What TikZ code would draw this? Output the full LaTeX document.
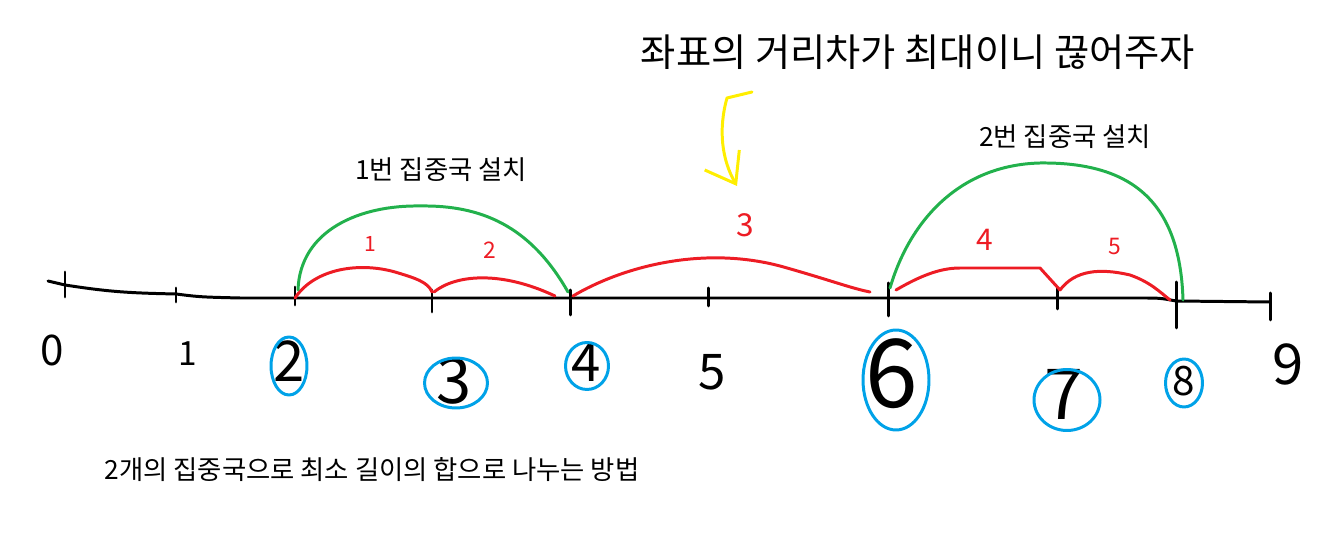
\documentclass[tikz,border=0pt]{standalone}
\usepackage{fontspec}
\setmainfont{Noto Sans CJK KR}
\usetikzlibrary{shapes.geometric, arrows.meta, positioning, calc}
\definecolor{cRed}{RGB}{237,28,36}
\definecolor{cGreen}{RGB}{34,177,76}
\definecolor{cBlue}{RGB}{0,162,232}
\definecolor{cYellow}{RGB}{255,238,0}
\newcommand{\fsz}[1]{\fontsize{#1}{#1}\selectfont}
\tikzset{
	pen/.style     ={line width=1.7pt, line cap=round, line join=round},
	axtick/.style  ={pen, black},
	numlbl/.style  ={anchor=base, inner sep=0pt},
	hub/.style     ={ellipse, draw=cBlue, pen, inner sep=0pt},
	seg/.style     ={pen, cRed},
	seglbl/.style  ={text=cRed, anchor=base, inner sep=0pt},
	grp/.style     ={pen, cGreen},
	note/.style    ={font=\fsz{15}, inner sep=0pt},
	hint/.style    ={pen, cYellow, -{Straight Barb[length=5.5mm, width=8mm]}},
}

\begin{document}
\begin{tikzpicture}[x=0.02cm, y=-0.02cm]
	\useasboundingbox (0,0) rectangle (1328,546);
	% points on the axis
	\coordinate (t0) at (65,285);  \coordinate (t1) at (176,294);
	\coordinate (t2) at (295,298); \coordinate (t3) at (432,298);
	\coordinate (t4) at (570,298); \coordinate (t5) at (708,298);
	\coordinate (t6) at (888,298); \coordinate (t7) at (1057,298);
	\coordinate (t8) at (1176,301); \coordinate (t9) at (1270,302);
	\draw[pen] (48,281) -- (t0) .. controls (110,292) and (130,293) .. (t1) .. controls (200,297) .. (240,298) -- (1140,298) .. controls (1160,298) .. (t8) -- (t9);
	\foreach \i/\a/\l in {0/-13/25, 1/-6/14, 2/-11/18, 3/-8/22, 4/-8/25, 5/-10/18, 6/-15/33, 7/-10/21, 8/-19/46, 9/-9/27}
		\draw[axtick] (t\i) ++(0,\a) -- ++(0,\l);

	% numbers under the axis
	\node[numlbl, font=\fsz{24}] (n0) at (52,366) {0};
	\node[numlbl, font=\fsz{19}] (n1) at (188,366) {1};
	\node[numlbl, font=\fsz{32}] (n2) at (289,382) {2};
	\node[numlbl, font=\fsz{36}] (n3) at (454,404) {3};
	\node[numlbl, font=\fsz{30}] (n4) at (586,382) {4};
	\node[numlbl, font=\fsz{28}] (n5) at (712,390) {5};
	\node[numlbl, font=\fsz{54}] (n6) at (892,408) {6};
	\node[numlbl, font=\fsz{40}] (n7) at (1064,420) {7};
	\node[numlbl, font=\fsz{23}] (n8) at (1184,396) {8};
	\node[numlbl, font=\fsz{32}] (n9) at (1288,385) {9};

	% circled positions
	\node[hub, minimum width=0.72cm, minimum height=1.16cm] (h2) at (289,366) {};
	\node[hub, minimum width=1.26cm, minimum height=1.0cm] (h3) at (456,383) {};
	\node[hub, minimum width=0.86cm, minimum height=0.94cm] (h4) at (587,366) {};
	\node[hub, minimum width=1.32cm, minimum height=2.0cm] (h6) at (896,380) {};
	\node[hub, minimum width=1.32cm, minimum height=1.22cm] (h7) at (1067,400) {};
	\node[hub, minimum width=0.74cm, minimum height=0.96cm] (h8) at (1184,383) {};

	% red segments
	\draw[seg] (t2) .. controls (315,268) and (360,262) .. (395,272) .. controls (415,278) and (428,282) .. ($(t3)+(0,-6)$);
	\draw[seg] (434,292) .. controls (455,275) and (500,270) .. (555,296);
	\draw[seg] (573,296) .. controls (620,268) and (700,245) .. (780,266) .. controls (830,280) and (850,288) .. (870,292);
	\draw[seg] (896,290) .. controls (920,276) and (940,268) .. (960,268) -- (1040,268) -- (1060,290);
	\draw[seg] (1060,290) .. controls (1075,270) and (1100,268) .. (1130,275) .. controls (1150,282) and (1160,292) .. (1170,300);
	\node[seglbl, font=\fsz{12}] (s1) at (370,252) {1};
	\node[seglbl, font=\fsz{13}] (s2) at (490,259) {2};
	\node[seglbl, font=\fsz{18}] (s3) at (745,237) {3};
	\node[seglbl, font=\fsz{17}] (s4) at (985,251) {4};
	\node[seglbl, font=\fsz{13}] (s5) at (1115,255) {5};

	% green groups
	\draw[grp] (298,290) .. controls (300,230) and (360,205) .. (420,206) .. controls (480,205) and (530,225) .. (568,292);
	\draw[grp] (890,288) .. controls (910,220) and (960,165) .. (1040,163) .. controls (1130,162) and (1180,200) .. (1183,300);

	% texts
	\node[note] (g1) at (441,170) {1번 집중국 설치};
	\node[note] (g2) at (1065,137) {2번 집중국 설치};
	\node[font=\fsz{21.8}, inner sep=0pt] (cut) at (918,52) {좌표의 거리차가 최대이니 끊어주자};
	\node[note] (goal) at (372,470) {2개의 집중국으로 최소 길이의 합으로 나누는 방법};

	\coordinate (y0) at (752,92);
	\coordinate (y1) at (737,186);
	\draw[hint] (y0) -- (727,98) .. controls (718,130) and (722,160) .. (y1);
\end{tikzpicture}
\end{document}
